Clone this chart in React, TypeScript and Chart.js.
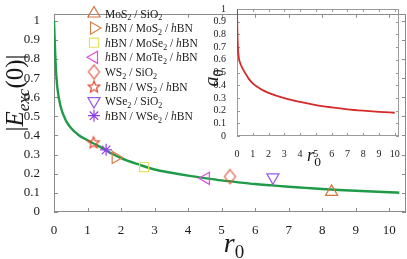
import React, { useEffect, useRef } from 'react';
import { Chart, registerables } from 'chart.js';
import { drawPoint } from 'chart.js/helpers';

Chart.register(...registerables);

const FONT = '"Liberation Serif", "DejaVu Serif", serif';

// Main curve |E_exc(0)| vs r0
const CURVE_R0 = [0, 0.02, 0.05, 0.1, 0.2, 0.35, 0.5, 0.75, 1.0, 1.25, 1.5, 1.75, 2.0, 2.5, 3.0, 3.5, 4.0, 4.5, 5.0, 5.5, 6.0, 6.5, 7.0, 7.5, 8.0, 8.5, 9.0, 9.5, 10.0, 10.3];
const CURVE_E = [1.0, 0.9, 0.77, 0.65, 0.55, 0.48, 0.44, 0.4, 0.375, 0.352, 0.328, 0.303, 0.282, 0.25, 0.222, 0.205, 0.19, 0.177, 0.165, 0.155, 0.146, 0.139, 0.132, 0.126, 0.12, 0.115, 0.111, 0.107, 0.103, 0.101];

// Inset curve a0 vs r0
const INSET_R0 = [0, 0.02, 0.05, 0.1, 0.2, 0.3, 0.5, 0.75, 1, 1.5, 2, 3, 4, 5, 6, 7, 8, 9, 10];
const INSET_A0 = [1.0, 0.85, 0.72, 0.63, 0.575, 0.545, 0.5, 0.45, 0.415, 0.37, 0.34, 0.298, 0.268, 0.243, 0.225, 0.21, 0.199, 0.19, 0.183];

// Samples
const SAMPLE_NAMES = ['MoS2/SiO2', 'hBN/MoS2/hBN', 'hBN/MoSe2/hBN', 'hBN/MoTe2/hBN', 'WS2/SiO2', 'hBN/WS2/hBN', 'WSe2/SiO2', 'hBN/WSe2/hBN'];
const SAMPLE_R0 = [8.28, 1.84, 2.69, 4.53, 5.25, 1.18, 6.53, 1.555];
const SAMPLE_E = [0.105, 0.285, 0.235, 0.176, 0.185, 0.364, 0.181, 0.325];

// Tick values
const MAIN_X_TICKS = [0, 1, 2, 3, 4, 5, 6, 7, 8, 9, 10];
const INSET_X_TICKS = [0, 1, 2, 3, 4, 5, 6, 7, 8, 9, 10];

const SAMPLE_COLORS = ['#d4773e', '#d6804a', '#e6e05a', '#e04ee0', '#e8553e', '#e84a30', '#9a58e8', '#9140e8'];

type Seg = { t: string; i?: boolean; s?: boolean };

function richSegs(name: string): Seg[] {
  const parts = name.split('/');
  const segs: Seg[] = [];
  parts.forEach((p, idx) => {
    if (idx > 0) segs.push({ t: ' / ' });
    let rest = p;
    if (rest.startsWith('h')) {
      segs.push({ t: 'h', i: true });
      rest = rest.slice(1);
    }
    let buf = '';
    for (const ch of rest) {
      if (/[0-9]/.test(ch)) {
        if (buf) { segs.push({ t: buf }); buf = ''; }
        segs.push({ t: ch, s: true });
      } else buf += ch;
    }
    if (buf) segs.push({ t: buf });
  });
  return segs;
}

function fontOf(seg: Seg, size: number, subRatio: number) {
  const sz = seg.s ? size * subRatio : size;
  return `${seg.i ? 'italic ' : ''}${sz}px ${FONT}`;
}

function drawRich(ctx: CanvasRenderingContext2D, segs: Seg[], x: number, y: number, size: number, align: 'left' | 'center', subRatio: number, subShift: number) {
  const ws = segs.map((sg) => { ctx.font = fontOf(sg, size, subRatio); return ctx.measureText(sg.t).width; });
  const total = ws.reduce((a, b) => a + b, 0);
  let cx = align === 'center' ? x - total / 2 : x;
  ctx.textAlign = 'left';
  ctx.textBaseline = 'alphabetic';
  segs.forEach((sg, k) => {
    ctx.font = fontOf(sg, size, subRatio);
    ctx.fillText(sg.t, cx, y + (sg.s ? subShift : 0));
    cx += ws[k];
  });
}

function makeStar(color: string, r: number) {
  const s = Math.ceil(2 * r + 4);
  const c = document.createElement('canvas');
  c.width = s; c.height = s;
  const g = c.getContext('2d')!;
  g.strokeStyle = color; g.lineWidth = 1.2;
  g.beginPath();
  for (let i = 0; i < 10; i++) {
    const ang = -Math.PI / 2 + i * Math.PI / 5;
    const rr = i % 2 ? r * 0.45 : r;
    const px = s / 2 + rr * Math.cos(ang);
    const py = s / 2 + 0.6 + rr * Math.sin(ang);
    if (i === 0) g.moveTo(px, py); else g.lineTo(px, py);
  }
  g.closePath();
  g.stroke();
  return c;
}

function makeDiamond(color: string, w: number, h: number) {
  const c = document.createElement('canvas');
  c.width = Math.ceil(w + 4); c.height = Math.ceil(h + 4);
  const g = c.getContext('2d')!;
  g.strokeStyle = color; g.lineWidth = 1.2;
  const cx = c.width / 2, cy = c.height / 2;
  g.beginPath();
  g.moveTo(cx, cy - h / 2); g.lineTo(cx + w / 2, cy); g.lineTo(cx, cy + h / 2); g.lineTo(cx - w / 2, cy);
  g.closePath();
  g.stroke();
  return c;
}

const framePlugin = {
  id: 'frame',
  beforeDatasetsDraw(chart: any, _args: any, opts: any) {
    const { ctx, chartArea: a, scales } = chart;
    const x = scales.x, y = scales.y;
    ctx.save();
    ctx.strokeStyle = opts.color;
    ctx.lineWidth = 1;
    ctx.strokeRect(Math.round(a.left) + 0.5, Math.round(a.top) + 0.5, Math.round(a.right - a.left) - 1, Math.round(a.bottom - a.top) - 1);
    const L = opts.len;
    ctx.beginPath();
    (opts.xTicks as number[]).forEach((v) => {
      const px = Math.round(x.getPixelForValue(v)) + 0.5;
      ctx.moveTo(px, a.bottom); ctx.lineTo(px, a.bottom - L);
      ctx.moveTo(px, a.top); ctx.lineTo(px, a.top + L);
    });
    y.ticks.forEach((t: any) => {
      const py = Math.round(y.getPixelForValue(t.value)) + 0.5;
      ctx.moveTo(a.left, py); ctx.lineTo(a.left + L, py);
      ctx.moveTo(a.right, py); ctx.lineTo(a.right - L, py);
    });
    ctx.stroke();
    ctx.restore();
  },
};

const labelsPlugin = {
  id: 'labels',
  afterDraw(chart: any, _args: any, opts: any) {
    const ctx = chart.ctx as CanvasRenderingContext2D;
    ctx.save();
    ctx.fillStyle = '#1a1a1a';
    (opts.items as any[]).forEach((it) => {
      ctx.save();
      ctx.translate(it.x, it.y);
      if (it.rot) ctx.rotate(it.rot);
      drawRich(ctx, it.segs, 0, it.base, it.size, 'center', it.subRatio, it.subShift);
      ctx.restore();
    });
    if (opts.legend) {
      SAMPLE_NAMES.forEach((name, k) => {
        const ry = 13.5 + k * 14.6;
        const ds = chart.data.datasets[k];
        ctx.strokeStyle = ds.borderColor;
        ctx.fillStyle = 'rgba(0,0,0,0)';
        ctx.lineWidth = ds.borderWidth;
        drawPoint(ctx, { pointStyle: ds.pointStyle, rotation: ds.pointRotation || 0, radius: ds.pointRadius, borderWidth: ds.borderWidth } as any, 94, ry);
        ctx.fillStyle = '#1a1a1a';
        drawRich(ctx, richSegs(name), 105, ry + 4, 11.5, 'left', 0.7, 2.8);
      });
    }
    ctx.restore();
  },
};

const fmt = (v: any) => {
  const n = Number(v);
  return Number(n.toFixed(1)).toString();
};

export default function App() {
  const mainRef = useRef<HTMLCanvasElement>(null);
  const insetRef = useRef<HTMLCanvasElement>(null);

  useEffect(() => {
    document.body.style.margin = '0';
    const styles: any[] = [
      { pointStyle: 'triangle', pointRotation: 0, pointRadius: 7 },
      { pointStyle: 'triangle', pointRotation: 90, pointRadius: 7 },
      { pointStyle: 'rect', pointRotation: 0, pointRadius: 6.4 },
      { pointStyle: 'triangle', pointRotation: -90, pointRadius: 7 },
      { pointStyle: makeDiamond(SAMPLE_COLORS[4], 11, 14), pointRotation: 0, pointRadius: 6 },
      { pointStyle: makeStar(SAMPLE_COLORS[5], 6), pointRotation: 0, pointRadius: 6 },
      { pointStyle: 'triangle', pointRotation: 180, pointRadius: 7 },
      { pointStyle: 'star', pointRotation: 0, pointRadius: 6 },
    ];
    const sampleSets = SAMPLE_NAMES.map((name, k) => ({
      label: name,
      data: [{ x: SAMPLE_R0[k], y: SAMPLE_E[k] }],
      borderColor: SAMPLE_COLORS[k],
      backgroundColor: 'rgba(0,0,0,0)',
      borderWidth: 1.2,
      ...styles[k],
    }));
    const curve = {
      label: 'curve',
      data: CURVE_R0.map((r, k) => ({ x: r, y: CURVE_E[k] })),
      showLine: true,
      borderColor: '#1e9a48',
      borderWidth: 2.4,
      pointRadius: 0,
      cubicInterpolationMode: 'monotone',
    };

    const main = new Chart(mainRef.current!, {
      type: 'scatter',
      data: { datasets: [...sampleSets, curve] as any },
      options: {
        responsive: false,
        animation: false,
        layout: { padding: { top: 2, right: 1, left: 0, bottom: 0 }, autoPadding: false } as any,
        plugins: {
          legend: { display: false },
          tooltip: { enabled: false },
          frame: { color: '#8a8a8a', len: 4, xTicks: MAIN_X_TICKS },
          labels: {
            legend: true,
            items: [
              { x: 15, y: 93, rot: -Math.PI / 2, base: 8, size: 25, subRatio: 0.68, subShift: 5.5,
                segs: [{ t: '|' }, { t: 'E', i: true }, { t: 'exc', i: true, s: true }, { t: '(0)|' }] },
              { x: 234, y: 251.5, rot: 0, base: 0, size: 28, subRatio: 0.68, subShift: 6.5,
                segs: [{ t: 'r', i: true }, { t: '0', s: true }] },
            ],
          },
        } as any,
        scales: {
          x: {
            type: 'linear', min: 0, max: 10.5,
            grid: { display: false },
            border: { display: false },
            ticks: { stepSize: 1, includeBounds: false, autoSkip: false, color: '#1a1a1a', font: { family: FONT, size: 13 }, padding: 3, maxRotation: 0, callback: fmt },
            afterFit: (s: any) => { s.height = 47; },
          },
          y: {
            type: 'linear', min: 0, max: 1.036,
            grid: { display: false },
            border: { display: false },
            ticks: { stepSize: 0.1, includeBounds: false, autoSkip: false, color: '#1a1a1a', font: { family: FONT, size: 13 }, padding: 6, callback: fmt },
            afterFit: (s: any) => { s.width = 54; },
          },
        } as any,
      },
      plugins: [framePlugin, labelsPlugin],
    });

    const inset = new Chart(insetRef.current!, {
      type: 'scatter',
      data: {
        datasets: [{
          label: 'a0',
          data: INSET_R0.map((r, k) => ({ x: r, y: INSET_A0[k] })),
          showLine: true,
          borderColor: '#d42a2a',
          borderWidth: 1.8,
          pointRadius: 0,
          cubicInterpolationMode: 'monotone',
        } as any],
      },
      options: {
        responsive: false,
        animation: false,
        layout: { padding: { top: 9, right: 8, left: 0, bottom: 0 }, autoPadding: false } as any,
        plugins: {
          legend: { display: false },
          tooltip: { enabled: false },
          frame: { color: '#9a9a9a', len: 3, xTicks: INSET_X_TICKS },
          labels: {
            legend: false,
            items: [
              { x: 17, y: 78, rot: -Math.PI / 2, base: 6, size: 20, subRatio: 0.7, subShift: 4.5,
                segs: [{ t: 'a', i: true }, { t: '0', s: true }] },
              { x: 119, y: 161, rot: 0, base: 0, size: 18, subRatio: 0.75, subShift: 4.5,
                segs: [{ t: 'r', i: true }, { t: '0', s: true }] },
            ],
          },
        } as any,
        scales: {
          x: {
            type: 'linear', min: 0, max: 10.27,
            grid: { display: false },
            border: { display: false },
            ticks: { stepSize: 1, includeBounds: false, autoSkip: false, color: '#1a1a1a', font: { family: FONT, size: 10 }, padding: 4, maxRotation: 0, callback: fmt },
            afterFit: (s: any) => { s.height = 36; },
          },
          y: {
            type: 'linear', min: 0, max: 1,
            grid: { display: false },
            border: { display: false },
            ticks: { stepSize: 0.1, autoSkip: false, color: '#1a1a1a', font: { family: FONT, size: 10 }, padding: 3, callback: fmt },
            afterFit: (s: any) => { s.width = 42; },
          },
        } as any,
      },
      plugins: [framePlugin, labelsPlugin],
    });

    return () => { main.destroy(); inset.destroy(); };
  }, []);

  return (
    <div style={{ position: 'relative', width: 407, height: 259, background: '#fff' }}>
      <canvas ref={mainRef} width={407} height={259} style={{ position: 'absolute', left: 0, top: 0 }} />
      <canvas ref={insetRef} width={212} height={172} style={{ position: 'absolute', left: 195, top: 0 }} />
    </div>
  );
}
